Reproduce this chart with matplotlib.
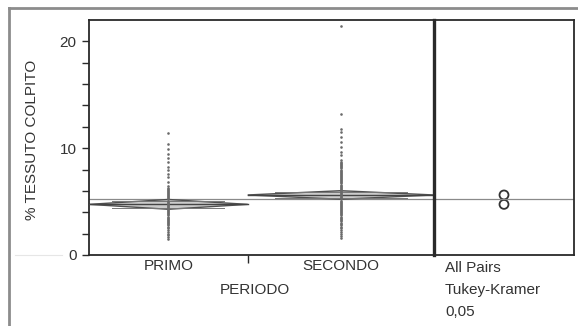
import matplotlib
matplotlib.use("Agg")
import matplotlib.pyplot as plt
from matplotlib.patches import Polygon, Circle
from matplotlib.lines import Line2D

plt.rcParams['font.family'] = ['Liberation Sans', 'DejaVu Sans']

# ---- data ----
groups = ["PRIMO", "SECONDO"]
group_share = [0.46, 0.54]          # x-axis width of each group
means = [4.74, 5.62]
ci_half = [0.46, 0.40]              # half-height of the means diamonds
grand_mean = 5.2
circle_radius = [0.42, 0.42]        # Tukey-Kramer comparison circles

primo = [1.5, 1.7, 1.9, 2.0, 2.2, 2.3, 2.5, 2.6, 2.8, 2.9, 3.0, 3.1, 3.2,
         3.3, 3.4, 3.5, 3.6, 3.7, 3.8, 3.9, 4.0, 4.1, 4.2, 4.3, 4.4, 4.5,
         4.6, 4.7, 4.8, 4.9, 5.0, 5.1, 5.2, 5.3, 5.4, 5.5, 5.6, 5.7, 5.8,
         5.9, 6.0, 6.1, 6.2, 6.3, 6.5, 6.85, 7.3, 7.6, 7.95, 8.25, 8.7,
         9.05, 9.5, 9.95, 10.4, 11.4]
secondo = [1.6, 1.8, 2.0, 2.2, 2.3, 2.5, 2.6, 2.8, 2.9, 3.0, 3.2, 3.3,
           3.4, 3.5, 3.6, 3.7, 3.8, 3.9, 4.0, 4.1, 4.2, 4.3, 4.4, 4.5, 4.6,
           4.7, 4.8, 4.9, 5.0, 5.1, 5.2, 5.3, 5.4, 5.5, 5.6, 5.7, 5.8, 5.9,
           6.0, 6.1, 6.2, 6.3, 6.4, 6.5, 6.6, 6.7, 6.8, 6.9, 7.0, 7.1, 7.2,
           7.3, 7.4, 7.5, 7.6, 7.7, 7.8, 7.9, 8.0, 8.1, 8.2, 8.3, 8.4, 8.5,
           8.6, 8.75, 8.9, 9.35, 9.65, 10.1, 10.6, 11.05, 11.5, 11.8, 13.2,
           21.4]
values = [primo, secondo]

y_label = "% TESSUTO COLPITO"
x_label = "PERIODO"
test_lines = ["All Pairs", "Tukey-Kramer", "0,05"]

# ---- figure ----
W, H = 578, 326
fig = plt.figure(figsize=(W / 100, H / 100), dpi=100)
fig.patch.set_facecolor("white")

def box(x0, y0, x1, y1):
    return [x0 / W, 1 - y1 / H, (x1 - x0) / W, (y1 - y0) / H]

text_col = "#333333"
line_col = "#2a2a2a"
ymax = 22.0

ax = fig.add_axes(box(89, 20, 434, 255))
ax.set_xlim(0, 1)
ax.set_ylim(0, ymax)

# grand mean reference line
ax.axhline(grand_mean, color="#8a8a8a", lw=0.9, zorder=1)

edges = [0]
for s in group_share:
    edges.append(edges[-1] + s)

for i, (g, vals) in enumerate(zip(groups, values)):
    x0, x1 = edges[i], edges[i + 1]
    xc = (x0 + x1) / 2
    m, h = means[i], ci_half[i]
    # means diamond
    dia = Polygon([(x0, m), (xc, m + h), (x1, m), (xc, m - h)], closed=True,
                  facecolor="#cccccc", edgecolor="#505050", lw=1.0, zorder=2)
    ax.add_patch(dia)
    ax.plot([x0, x1], [m, m], color="#444444", lw=1.0, zorder=3)
    # overlap marks
    ov = h / 2 ** 0.5
    inset = (x1 - x0) * (1 - 1 / 2 ** 0.5) / 2
    for yy in (m + ov, m - ov):
        ax.plot([x0 + inset, x1 - inset], [yy, yy], color="#777777", lw=0.7, zorder=3)
    # observations
    ax.scatter([xc] * len(vals), vals, s=3.5, color="#6a6a6a", lw=0,
               zorder=4)

# ticks
ax.set_yticks([0, 10, 20])
ax.set_yticks([2, 4, 6, 8, 12, 14, 16, 18], minor=True)
ax.tick_params(axis="y", which="both", direction="out", length=5, width=1.0,
               colors=line_col, labelcolor=text_col, labelsize=11, pad=4)
ax.set_xticks([edges[1]])
ax.set_xticklabels([""])
ax.tick_params(axis="x", direction="out", length=6, width=1.0, colors=line_col)
for sp in ["left", "top", "bottom"]:
    ax.spines[sp].set_color(line_col)
    ax.spines[sp].set_linewidth(1.3)
ax.spines["right"].set_visible(False)

for i, g in enumerate(groups):
    xc = (edges[i] + edges[i + 1]) / 2
    ax.text(xc, -0.045, g, transform=ax.transAxes, ha="center", va="center",
            fontsize=11, color=text_col)
ax.text(0.48, -0.15, x_label, transform=ax.transAxes, ha="center",
        va="center", fontsize=11, color=text_col)
fig.text(32 / W, 1 - 140 / H, y_label, rotation=90, ha="center", va="center",
         fontsize=11, color=text_col)

# ---- comparison circles panel ----
pw, ph = 574 - 434, 235
axc = fig.add_axes(box(434, 20, 574, 255))
units_per_px = ymax / ph
axc.set_ylim(0, ymax)
axc.set_xlim(0, pw * units_per_px)
axc.axhline(grand_mean, color="#8a8a8a", lw=0.9)
cx = 70 * units_per_px
for m, r in zip(means, circle_radius):
    axc.add_patch(Circle((cx, m), r, fill=False, edgecolor="#333333", lw=1.3))
axc.set_xticks([])
axc.set_yticks([])
for sp in axc.spines.values():
    sp.set_color(line_col)
    sp.set_linewidth(1.3)
axc.spines["left"].set_linewidth(2.4)

for k, t in enumerate(test_lines):
    fig.text(445 / W, 1 - (268 + 22 * k) / H, t, ha="left", va="center",
             fontsize=11, color=text_col)

# outer frame and faint zero guide
fig.add_artist(Line2D([9 / W, 9 / W], [0, 1 - 8 / H], color="#8c8c8c", lw=2.0))
fig.add_artist(Line2D([9 / W, 1], [1 - 8 / H, 1 - 8 / H], color="#8c8c8c", lw=2.0))
fig.add_artist(Line2D([15 / W, 62 / W], [1 - 254.5 / H, 1 - 254.5 / H],
                      color="#e6e6e6", lw=0.8))

fig.savefig("out.png", dpi=100, facecolor="white")
